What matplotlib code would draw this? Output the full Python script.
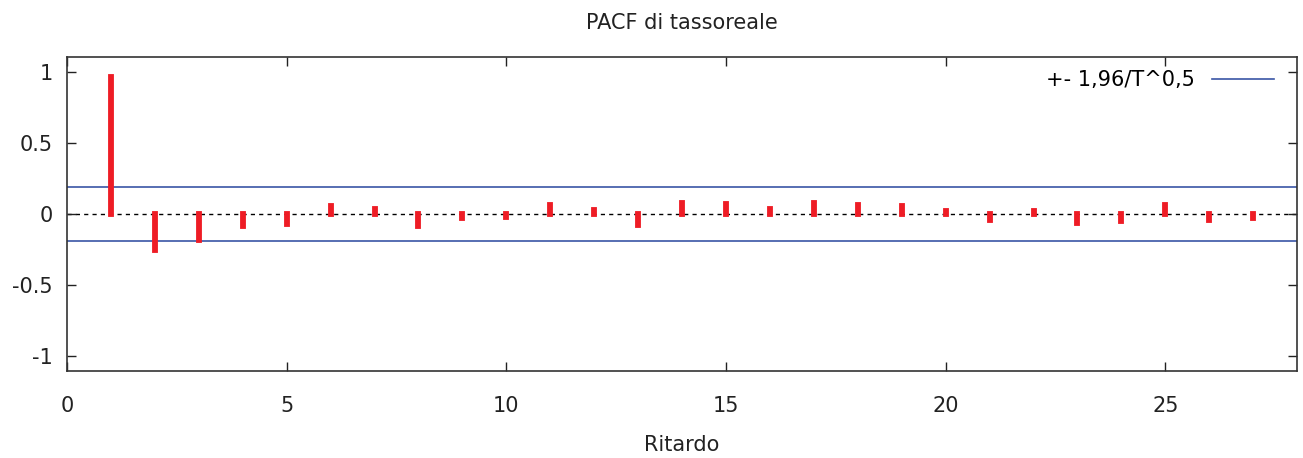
import matplotlib
matplotlib.use("Agg")
import matplotlib.pyplot as plt
import numpy as np

lags = list(range(1, 28))
pacf = [0.964, -0.251, -0.181, -0.082, -0.069, 0.052, 0.031, -0.082, -0.029, -0.024,
        0.064, 0.026, -0.078, 0.078, 0.066, 0.031, 0.073, 0.059, 0.052, 0.017,
        -0.040, 0.019, -0.061, -0.052, 0.059, -0.040, -0.029]
band = 0.189
title = "PACF di tassoreale"
xlabel = "Ritardo"
legend_label = "+- 1,96/T^0,5"

plt.rcParams['font.family'] = ['DejaVu Sans']
fs = 15
fig = plt.figure(figsize=(13.03, 4.58), dpi=100)
ax = fig.add_axes([0.0514, 0.19, 0.9441, 0.6855])

ax.axhline(0, color='black', lw=1.0, ls=(0, (3, 3)), zorder=1)
ax.axhline(band, color='#3a55a5', lw=1.2, zorder=2, label=legend_label)
ax.axhline(-band, color='#3a55a5', lw=1.2, zorder=2)
ax.vlines(lags, 0, pacf, color='#ee1c25', lw=4.2, capstyle='projecting', zorder=3)

ax.set_xlim(0, 28)
ax.set_ylim(-1.105, 1.103)
ax.set_xticks([0, 5, 10, 15, 20, 25])
ax.set_yticks([-1, -0.5, 0, 0.5, 1])
ax.set_yticklabels(['-1', '-0.5', '0', '0.5', '1'])
ax.tick_params(direction='in', length=6.5, width=1, top=True, right=True,
               labelsize=fs, colors='#222222')
ax.tick_params(axis='x', pad=18)
ax.tick_params(axis='y', pad=10)
for s in ax.spines.values():
    s.set_color('#333333')
    s.set_linewidth(1.2)

ax.set_title(title, fontsize=fs, pad=20, color='#222222')
ax.set_xlabel(xlabel, fontsize=fs, labelpad=14, color='#222222')

leg = ax.legend(loc='upper right', frameon=False, fontsize=fs, markerfirst=False,
                handlelength=3.0, borderaxespad=0.2, handletextpad=0.8,
                bbox_to_anchor=(0.9915, 0.997))

fig.savefig("out.png", dpi=100)
